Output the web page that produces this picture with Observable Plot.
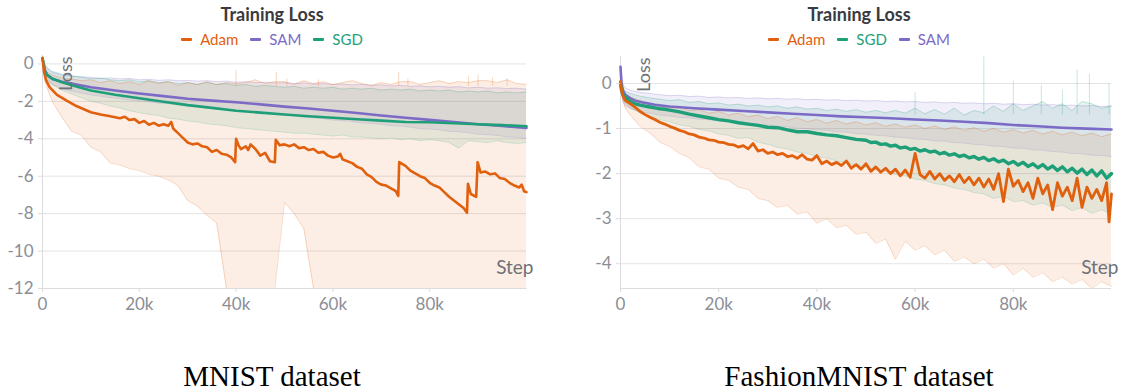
<!DOCTYPE html>
<html><head><meta charset="utf-8">
<script src="https://cdn.jsdelivr.net/npm/d3@7"></script>
<script src="https://cdn.jsdelivr.net/npm/@observablehq/plot@0.6"></script>
<style>
body{margin:0;background:#fff;}
#root{position:relative;width:1123px;height:392px;overflow:hidden;font-family:Lato,"Noto Sans",sans-serif;background:#fff}
.title{position:absolute;top:3px;font-weight:700;font-size:18px;line-height:22px;color:#3a3b40;text-align:center;white-space:nowrap}
.legend{position:absolute;top:30px;display:flex;gap:12px;justify-content:center;font-size:15px;line-height:18px;white-space:nowrap}
.legend .item{display:flex;align-items:center;gap:8px}
.legend i{display:inline-block;width:11px;height:3px;border-radius:1px}
.caption{position:absolute;top:362px;font-family:"Liberation Serif","Times New Roman",serif;font-size:29px;line-height:29px;color:#000;text-align:center;white-space:nowrap}
.panel{position:absolute;top:50px}
</style></head>
<body><div id="root">
<div class="title" style="left:0;width:544px">Training Loss</div>
<div class="legend" id="legL" style="left:0;width:544px"></div>
<div class="panel" id="plotL" style="left:0"></div>
<div class="caption" style="left:0;width:544px">MNIST dataset</div>
<div class="title" style="left:600px;width:518px">Training Loss</div>
<div class="legend" id="legR" style="left:600px;width:518px"></div>
<div class="panel" id="plotR" style="left:575px"></div>
<div class="caption" style="left:600px;width:518px">FashionMNIST dataset</div>
</div>
<script>
// ---------- shared ----------
const colors = {Adam: "#e0600e", SAM: "#7b6bc6", SGD: "#1e9f78"};
const legendOrderL = ["Adam", "SAM", "SGD"];
const legendOrderR = ["Adam", "SGD", "SAM"];
const xTicks = [0, 20, 40, 60, 80];           // thousands of steps
const yTicksL = [0, -2, -4, -6, -8, -10, -12];
const yTicksR = [0, -1, -2, -3, -4];

// band sample positions (k steps)
const bandX = [0,0.5,1,2,4,6,8,10,12,14,16,18,20,22,24,26,28,30,32,34,36,38,40,42,44,46,48,50,52,54,56,58,60,62,64,66,68,70,72,74,76,78,80,82,84,86,88,90,92,94,96,98,100];

// ---------- MNIST (left) ----------
const mnistAdamHi = [0.3,-0.2,-0.45,-0.6,-0.75,-0.8,-0.9,-0.85,-1.0,-0.9,-1.05,-0.95,-1.1,-0.9,-1.05,-0.95,-1.15,-1.0,-1.1,-0.95,-1.1,-1.0,-1.05,-1.0,-0.85,-1.05,-0.95,-0.95,-1.1,-0.9,-1.05,-0.95,-1.1,-1.0,-0.9,-1.05,-1.15,-1.0,-1.1,-0.95,-0.95,-1.1,-1.0,-0.9,-1.05,-0.95,-1.0,-0.9,-0.9,-1.0,-0.85,-1.05,-1.1];
const mnistAdamLo = [0.3,-0.9,-1.3,-2.0,-2.85,-3.6,-3.8,-4.45,-4.7,-5.3,-5.4,-5.6,-5.7,-5.9,-6.0,-6.2,-6.5,-7.3,-7.6,-8.1,-8.5,-12,-12,-12,-12,-12,-12,-7.4,-8.0,-8.8,-12,-12,-12,-12,-12,-12,-12,-12,-12,-12,-12,-12,-12,-12,-12,-12,-12,-12,-12,-12,-12,-12,-12];
const mnistAdamSpikeX = [40, 48.3, 50.5, 57, 73.6, 75.5, 88, 90, 93, 96];
const mnistAdamSpikeTop = [-0.36, -0.44, -0.8, -0.85, -0.45, -0.8, -0.7, -0.6, -0.75, -0.8];
const mnistSgdHi = [0.3,0.0,-0.2,-0.4,-0.55,-0.65,-0.7,-0.8,-0.75,-0.85,-0.9,-0.85,-0.95,-0.9,-1.0,-0.95,-1.05,-1.0,-1.1,-1.0,-1.1,-1.05,-1.15,-1.1,-1.2,-1.15,-1.2,-1.25,-1.2,-1.3,-1.25,-1.3,-1.25,-1.35,-1.3,-1.35,-1.3,-1.4,-1.35,-1.4,-1.35,-1.45,-1.4,-1.45,-1.4,-1.5,-1.45,-1.5,-1.45,-1.55,-1.5,-1.55,-1.5];
const mnistSgdLo = [0.3,-0.5,-0.8,-1.1,-1.4,-1.6,-1.8,-2.0,-2.1,-2.25,-2.35,-2.5,-2.6,-2.7,-2.75,-2.9,-2.95,-3.05,-3.1,-3.2,-3.25,-3.3,-3.4,-3.45,-3.5,-3.55,-3.6,-3.65,-3.7,-3.7,-3.75,-3.8,-3.85,-3.8,-3.9,-3.9,-3.95,-4.0,-3.95,-4.05,-4.0,-4.1,-4.05,-4.1,-4.2,-4.5,-4.1,-4.15,-4.2,-4.1,-4.2,-4.25,-4.2];
const mnistSamHi = [0.3,-0.05,-0.25,-0.45,-0.6,-0.65,-0.7,-0.72,-0.78,-0.75,-0.8,-0.78,-0.85,-0.82,-0.88,-0.85,-0.9,-0.88,-0.92,-0.9,-0.95,-0.92,-0.98,-0.95,-1.0,-0.98,-1.02,-1.0,-1.05,-1.02,-1.08,-1.05,-1.1,-1.08,-1.12,-1.1,-1.15,-1.12,-1.18,-1.15,-1.2,-1.18,-1.22,-1.2,-1.25,-1.22,-1.28,-1.25,-1.3,-1.28,-1.32,-1.3,-1.35];
const mnistSamLo = [0.3,-0.6,-0.9,-1.1,-1.3,-1.45,-1.55,-1.65,-1.72,-1.8,-1.85,-1.92,-1.98,-2.02,-2.1,-2.12,-2.18,-2.25,-2.28,-2.32,-2.4,-2.42,-2.48,-2.55,-2.58,-2.62,-2.7,-2.72,-2.78,-2.85,-2.88,-2.92,-3.0,-3.02,-3.08,-3.15,-3.18,-3.22,-3.3,-3.32,-3.38,-3.45,-3.48,-3.52,-3.6,-3.62,-3.68,-3.75,-3.78,-3.82,-3.9,-3.92,-3.98];

const mnistAdamX = [0,0.3,0.7,1.5,3,5,7,10,12,14,16,17,18,19,20,21,22,23,24,25,26,26.6,27,28,29,30,31,32,33,34,35,36,37,38,39,39.8,40.0,40.5,41,42,42.5,43,44,45,46,47,48,48.2,49,50,51,52,53,54,55,56,57,58,59,60,61,61.5,62,63,64,65,66,67,68,69,70,71,72,73,73.5,73.7,75,76,77,78,79,80,81,82,83,84,85,86,87,87.7,87.9,88.5,89.6,89.9,90.5,91.5,92.5,93.5,94.5,95.5,96.5,97.5,98.5,99,99.5,100];
const mnistAdamY = [0.32,-0.4,-0.85,-1.25,-1.65,-1.96,-2.25,-2.58,-2.7,-2.8,-2.9,-2.82,-3.0,-2.95,-3.15,-3.05,-3.25,-3.15,-3.3,-3.22,-3.3,-3.1,-3.45,-3.7,-3.95,-4.2,-4.3,-4.25,-4.4,-4.45,-4.7,-4.6,-4.8,-4.85,-5.0,-5.25,-4.0,-4.35,-4.55,-4.4,-4.6,-4.3,-4.55,-4.9,-4.75,-5.2,-5.25,-4.05,-4.35,-4.3,-4.4,-4.3,-4.5,-4.45,-4.6,-4.55,-4.75,-4.7,-4.9,-5.0,-4.95,-4.8,-5.1,-5.2,-5.3,-5.5,-5.6,-5.9,-6.05,-6.3,-6.45,-6.5,-6.65,-6.8,-7.05,-5.25,-5.45,-5.7,-5.85,-6.0,-6.1,-6.35,-6.5,-6.6,-6.85,-7.1,-7.3,-7.5,-7.7,-7.95,-6.4,-6.95,-7.1,-5.25,-5.8,-5.75,-5.9,-5.85,-6.1,-6.15,-6.35,-6.5,-6.6,-6.45,-6.8,-6.85];
const mnistLineX = [0,0.5,1,2,4,7,10,15,20,25,30,35,40,45,50,55,60,65,70,75,80,85,90,95,100];
const mnistSamY = [0.3,-0.35,-0.6,-0.8,-0.95,-1.1,-1.25,-1.42,-1.58,-1.72,-1.86,-1.96,-2.05,-2.16,-2.28,-2.38,-2.5,-2.62,-2.76,-2.88,-2.99,-3.1,-3.22,-3.32,-3.42];
const mnistSgdY = [0.32,-0.4,-0.6,-0.78,-0.98,-1.2,-1.42,-1.65,-1.83,-2.02,-2.2,-2.35,-2.5,-2.6,-2.7,-2.8,-2.88,-2.96,-3.03,-3.1,-3.12,-3.17,-3.22,-3.27,-3.33];

// ---------- FashionMNIST (right) ----------
const fashAdamHi = [0.1,-0.15,-0.25,-0.3,-0.38,-0.45,-0.5,-0.55,-0.52,-0.6,-0.58,-0.66,-0.62,-0.7,-0.66,-0.74,-0.7,-0.78,-0.73,-0.82,-0.76,-0.85,-0.8,-0.88,-0.82,-0.9,-0.85,-0.92,-0.87,-0.95,-0.9,-0.97,-0.92,-1.0,-0.94,-1.02,-0.96,-1.04,-0.98,-1.06,-1.0,-1.08,-1.02,-1.1,-1.04,-1.12,-1.06,-1.14,-1.08,-1.16,-1.1,-1.18,-1.12];
const fashAdamLo = [0.0,-0.4,-0.55,-0.7,-0.95,-1.1,-1.3,-1.4,-1.55,-1.65,-1.85,-1.9,-2.1,-2.15,-2.3,-2.35,-2.55,-2.6,-2.75,-2.7,-2.9,-2.85,-3.1,-3.0,-3.2,-3.15,-3.35,-3.3,-3.55,-3.45,-3.9,-3.5,-3.7,-3.6,-3.8,-3.7,-3.95,-3.85,-4.0,-3.9,-4.1,-4.0,-4.25,-4.1,-4.3,-4.2,-4.4,-4.3,-4.45,-4.35,-4.55,-4.4,-4.5];
const fashSgdHi = [0.2,-0.1,-0.18,-0.22,-0.28,-0.32,-0.35,-0.38,-0.36,-0.42,-0.4,-0.45,-0.43,-0.48,-0.46,-0.5,-0.48,-0.52,-0.5,-0.55,-0.52,-0.57,-0.55,-0.6,-0.57,-0.62,-0.58,-0.64,-0.6,-0.65,-0.6,-0.66,-0.55,-0.67,-0.58,-0.68,-0.55,-0.7,-0.6,-0.65,-0.5,-0.62,-0.45,-0.6,-0.5,-0.4,-0.55,-0.45,-0.6,-0.4,-0.45,-0.55,-0.5];
const fashSgdLo = [0.0,-0.35,-0.45,-0.55,-0.65,-0.72,-0.8,-0.85,-0.92,-0.95,-1.02,-1.05,-1.12,-1.15,-1.22,-1.2,-1.3,-1.35,-1.42,-1.45,-1.52,-1.55,-1.62,-1.65,-1.72,-1.75,-1.82,-1.85,-1.92,-1.95,-2.02,-2.05,-2.12,-2.15,-2.22,-2.25,-2.32,-2.35,-2.42,-2.45,-2.55,-2.5,-2.62,-2.6,-2.7,-2.65,-2.75,-2.7,-2.82,-2.75,-2.88,-2.8,-2.9];
const fashSamHi = [0.4,0.0,-0.1,-0.15,-0.2,-0.22,-0.25,-0.27,-0.26,-0.29,-0.28,-0.31,-0.3,-0.32,-0.31,-0.33,-0.32,-0.34,-0.33,-0.35,-0.34,-0.36,-0.35,-0.37,-0.36,-0.38,-0.37,-0.39,-0.38,-0.4,-0.39,-0.41,-0.4,-0.42,-0.41,-0.43,-0.42,-0.44,-0.43,-0.45,-0.44,-0.46,-0.45,-0.47,-0.46,-0.48,-0.47,-0.49,-0.48,-0.5,-0.49,-0.51,-0.5];
const fashSamLo = [0.0,-0.4,-0.5,-0.55,-0.62,-0.66,-0.7,-0.72,-0.75,-0.76,-0.79,-0.8,-0.83,-0.84,-0.87,-0.88,-0.91,-0.92,-0.95,-0.96,-0.99,-1.0,-1.03,-1.04,-1.07,-1.08,-1.11,-1.12,-1.15,-1.16,-1.19,-1.2,-1.23,-1.24,-1.27,-1.28,-1.31,-1.32,-1.35,-1.36,-1.39,-1.4,-1.43,-1.44,-1.47,-1.48,-1.51,-1.52,-1.55,-1.56,-1.59,-1.6,-1.62];
// raw spikes of SGD above its band (x in k, top value)
const fashSgdSpikeX = [60, 74, 80, 85.7, 90, 93, 95.5, 99.5];
const fashSgdSpikeTop = [-0.2, 0.59, 0.05, -0.04, -0.15, 0.3, 0.2, 0.0];

const fashAdamX = [0,0.2,0.5,1,2,3,4,5,6,7,8,9,10,11,12,13,14,15,16,17,18,19,20,21,22,23,24,25,26,27,28,29,30,31,32,33,34,35,36,37,38,39,40,41,42,43,44,45,46,47,48,49,50,51,52,53,54,55,56,57,58,59,60,61,62,63,64,65,66,67,68,69,70,71,72,73,74,75,76,77,78,79,80,81,82,83,84,85,86,87,88,89,90,91,92,93,94,95,96,97,98,99,99.5,100];
const fashAdamY = [0.05,-0.15,-0.28,-0.38,-0.45,-0.53,-0.62,-0.69,-0.75,-0.8,-0.86,-0.9,-0.95,-0.99,-1.04,-1.07,-1.12,-1.14,-1.19,-1.21,-1.25,-1.26,-1.3,-1.31,-1.35,-1.36,-1.41,-1.38,-1.45,-1.33,-1.5,-1.47,-1.55,-1.52,-1.58,-1.55,-1.62,-1.6,-1.66,-1.58,-1.68,-1.7,-1.6,-1.78,-1.72,-1.8,-1.75,-1.82,-1.72,-1.88,-1.8,-1.9,-1.78,-1.95,-1.85,-1.97,-1.88,-2.0,-1.9,-2.05,-1.92,-2.08,-1.55,-2.02,-2.1,-1.95,-2.12,-2.0,-2.15,-2.05,-2.18,-2.02,-2.2,-2.08,-2.25,-2.1,-2.3,-2.12,-2.35,-2.0,-2.62,-1.9,-2.28,-2.15,-2.4,-2.2,-2.55,-2.1,-2.45,-2.25,-2.8,-2.2,-2.5,-2.3,-2.6,-2.1,-2.75,-2.3,-2.55,-2.35,-2.6,-2.2,-3.07,-2.45];
const fashSgdX = [0,0.2,0.5,1,2,3,4,5,6,7,8,9,10,12,14,16,18,20,22,24,26,28,30,32,34,36,38,40,42,44,46,48,50,51,52,53,54,55,56,57,58,59,60,61,62,63,64,65,66,67,68,69,70,71,72,73,74,75,76,77,78,79,80,81,82,83,84,85,86,87,88,89,90,91,92,93,94,95,96,97,98,99,100];
const fashSgdY = [0.0,-0.15,-0.25,-0.3,-0.4,-0.45,-0.48,-0.5,-0.52,-0.54,-0.56,-0.57,-0.59,-0.63,-0.68,-0.72,-0.76,-0.8,-0.83,-0.87,-0.9,-0.93,-0.97,-0.98,-1.03,-1.07,-1.07,-1.11,-1.14,-1.16,-1.2,-1.24,-1.26,-1.31,-1.3,-1.35,-1.34,-1.39,-1.37,-1.43,-1.41,-1.46,-1.44,-1.5,-1.47,-1.52,-1.5,-1.56,-1.53,-1.59,-1.56,-1.62,-1.59,-1.65,-1.62,-1.68,-1.64,-1.71,-1.67,-1.74,-1.7,-1.78,-1.73,-1.81,-1.75,-1.84,-1.78,-1.87,-1.8,-1.9,-1.83,-1.93,-1.85,-1.96,-1.88,-1.99,-1.9,-2.02,-1.92,-2.05,-1.94,-2.1,-2.0];
const fashSamX = [0,0.2,0.5,1,2,3,5,7,10,15,20,25,30,35,40,45,50,55,60,65,70,75,80,85,90,95,100];
const fashSamY = [0.37,0.0,-0.15,-0.25,-0.33,-0.38,-0.43,-0.47,-0.51,-0.55,-0.58,-0.61,-0.64,-0.67,-0.7,-0.73,-0.75,-0.77,-0.8,-0.82,-0.85,-0.88,-0.92,-0.95,-0.98,-1.0,-1.02];

// ---------- helpers ----------
const band = (hi, lo) => bandX.map((x, i) => ({x, hi: hi[i], lo: lo[i]}));
const pts = (xs, ys) => xs.map((x, i) => ({x, y: ys[i]}));
const fmtK = d => d === 0 ? "0" : d + "k";

function legend(el, order) {
  el.innerHTML = order.map(n =>
    `<span class="item" style="color:${colors[n]}"><i style="background:${colors[n]}"></i>${n}</span>`).join("");
}

function chart({width, marginLeft, marginRight, marginTop, yDomain, yTicks, bands, lines, spikes}) {
  const ymin = yDomain[0];
  const marks = [
    Plot.gridY(yTicks, {stroke: "#e4e4e6", strokeOpacity: 1})
  ];
  for (const b of bands) {
    marks.push(Plot.areaY(b.data, {x: "x", y1: "lo", y2: "hi", fill: colors[b.name], fillOpacity: 0.11, curve: "linear"}));
  }
  for (const b of bands) {
    marks.push(Plot.lineY(b.data, {x: "x", y: "hi", stroke: colors[b.name], strokeOpacity: 0.22, strokeWidth: 1}));
    marks.push(Plot.lineY(b.data, {x: "x", y: "lo", stroke: colors[b.name], strokeOpacity: 0.22, strokeWidth: 1}));
  }
  if (spikes) for (const s of spikes) {
    marks.push(Plot.ruleX(s.data, {x: "x", y1: s.base, y2: "y", stroke: colors[s.name], strokeOpacity: 0.25, strokeWidth: 1}));
  }
  marks.push(Plot.ruleX([0], {stroke: "#dcdcdf"}));
  marks.push(Plot.ruleY([ymin], {stroke: "#dcdcdf"}));
  for (const l of lines) {
    marks.push(Plot.lineY(l.data, {x: "x", y: "y", stroke: colors[l.name], strokeWidth: l.w || 2.6, strokeLinejoin: "round"}));
  }
  marks.push(Plot.axisX(xTicks, {tickFormat: fmtK, tickSize: 4, tickPadding: 5, stroke: "#dcdcdf", fill: "#8b8e96", fontSize: 17, label: null}));
  marks.push(Plot.axisY(yTicks, {tickFormat: d => String(d), tickSize: 4, tickPadding: 5, stroke: "#dcdcdf", fill: "#8b8e96", fontSize: 17, label: null}));
  marks.push(Plot.text(["Loss"], {frameAnchor: "top-left", rotate: -90, textAnchor: "end", dx: 17, dy: 1, fontSize: 18, fill: "#6e7178"}));
  marks.push(Plot.text(["Step"], {frameAnchor: "bottom-right", textAnchor: "end", dx: 7, dy: -15, fontSize: 19, fill: "#6e7178"}));
  return Plot.plot({
    width, height: 270, marginLeft, marginRight, marginTop, marginBottom: 32,
    style: {fontFamily: "Lato, 'Noto Sans', sans-serif", background: "transparent", overflow: "visible"},
    x: {domain: [0, 100], label: null},
    y: {domain: yDomain, label: null},
    marks
  });
}

legend(document.getElementById("legL"), legendOrderL);
legend(document.getElementById("legR"), legendOrderR);

document.getElementById("plotL").append(chart({
  width: 560, marginLeft: 42, marginRight: 34, marginTop: 5,
  yDomain: [-12, 0.45], yTicks: yTicksL,
  bands: [
    {name: "SAM", data: band(mnistSamHi, mnistSamLo)},
    {name: "SGD", data: band(mnistSgdHi, mnistSgdLo)},
    {name: "Adam", data: band(mnistAdamHi, mnistAdamLo)}
  ],
  spikes: [{name: "Adam", base: -1.2, data: pts(mnistAdamSpikeX, mnistAdamSpikeTop)}],
  lines: [
    {name: "SAM", data: pts(mnistLineX, mnistSamY)},
    {name: "SGD", data: pts(mnistLineX, mnistSgdY)},
    {name: "Adam", data: pts(mnistAdamX, mnistAdamY)}
  ]
}));

document.getElementById("plotR").append(chart({
  width: 548, marginLeft: 45, marginRight: 12, marginTop: 6,
  yDomain: [-4.55, 0.6], yTicks: yTicksR,
  bands: [
    {name: "SAM", data: band(fashSamHi, fashSamLo)},
    {name: "SGD", data: band(fashSgdHi, fashSgdLo)},
    {name: "Adam", data: band(fashAdamHi, fashAdamLo)}
  ],
  spikes: [{name: "SGD", base: -0.7, data: pts(fashSgdSpikeX, fashSgdSpikeTop)}],
  lines: [
    {name: "SAM", data: pts(fashSamX, fashSamY)},
    {name: "SGD", data: pts(fashSgdX, fashSgdY), w: 3.4},
    {name: "Adam", data: pts(fashAdamX, fashAdamY), w: 2.8}
  ]
}));
</script>
</body></html>
